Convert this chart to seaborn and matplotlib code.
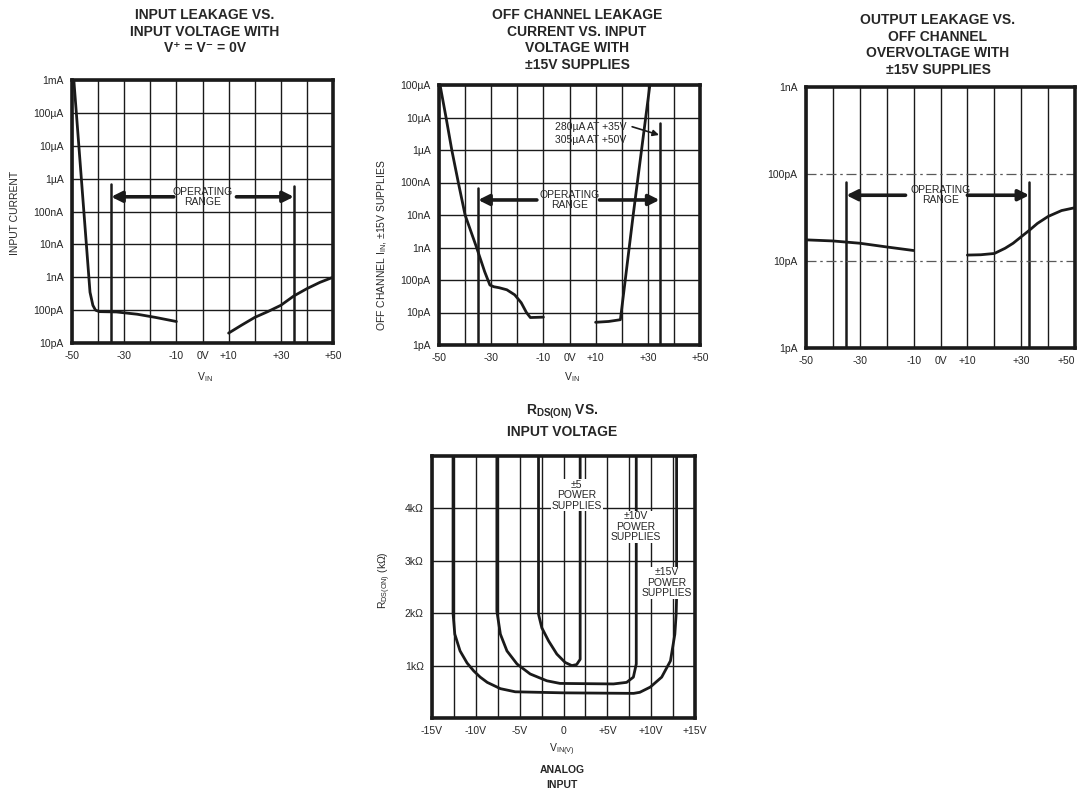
import numpy as np
import pandas as pd
import seaborn as sns
from matplotlib import pyplot as plt
from matplotlib.ticker import FixedLocator, NullLocator

# ---- data ----
# input leakage vs input voltage, V+ = V- = 0V
in_leak_vin_a = [-49.3, -43.1, -42.0, -41.0, -39.5, -33.0, -25.0, -18.0, -10.0]
in_leak_i_a = [1e-3, 3.5e-10, 1.4e-10, 1e-10, 9e-11, 8.8e-11, 7.5e-11, 6e-11, 4.5e-11]
in_leak_vin_b = [10, 15, 20, 25, 30, 35, 40, 45, 50]
in_leak_i_b = [2e-11, 3.5e-11, 6e-11, 9e-11, 1.4e-10, 2.7e-10, 4.5e-10, 7e-10, 1e-9]

# off channel leakage vs input voltage, +-15V supplies
off_vin_a = [-49.6, -47.3, -45.1, -42.6, -40.0, -35.6, -32.5, -30.5, -29.0, -27.0,
             -24.0, -21.0, -18.5, -16.5, -15.0, -10.0]
off_i_a = [1e-4, 1e-5, 1e-6, 1e-7, 1e-8, 1e-9, 1.8e-10, 7e-11, 6.2e-11, 5.8e-11,
           5e-11, 3.5e-11, 2e-11, 1e-11, 7e-12, 7.2e-12]
off_vin_b = [10, 15, 19.5, 24.4, 30.8]
off_i_b = [5e-12, 5.3e-12, 6e-12, 1e-8, 1e-4]

# output leakage vs off channel overvoltage
out_vin_a = [-50, -40, -30, -20, -10]
out_i_a = [1.75e-11, 1.7e-11, 1.6e-11, 1.45e-11, 1.32e-11]
out_vin_b = [10, 15, 20, 24, 27, 30, 33, 36, 40, 45, 50]
out_i_b = [1.17e-11, 1.18e-11, 1.22e-11, 1.4e-11, 1.6e-11, 1.9e-11, 2.25e-11,
           2.7e-11, 3.25e-11, 3.8e-11, 4.1e-11]

# RDS(ON) vs input voltage (kOhm)
rds15_v = [-12.6, -12.6, -12.4, -11.8, -11.0, -10.25, -9.5, -8.7, -7.2, -5.5, 0.0,
           8.0, 8.7, 9.9, 11.2, 12.2, 12.7, 12.85, 12.9, 12.9]
rds15_k = [5.0, 2.0, 1.6, 1.28, 1.05, 0.9, 0.78, 0.68, 0.56, 0.5, 0.48,
           0.47, 0.49, 0.59, 0.78, 1.09, 1.6, 1.98, 2.3, 5.0]
rds10_v = [-7.6, -7.6, -7.2, -6.45, -5.3, -3.8, -1.9, -0.4, 5.7, 7.2, 7.97, 8.3, 8.3]
rds10_k = [5.0, 2.04, 1.6, 1.28, 1.03, 0.84, 0.71, 0.66, 0.65, 0.68, 0.78, 1.03, 5.0]
rds5_v = [-2.85, -2.85, -2.47, -1.7, -0.76, 0.19, 0.95, 1.5, 1.9, 1.9]
rds5_k = [5.0, 1.98, 1.72, 1.47, 1.22, 1.06, 1.0, 1.02, 1.12, 5.0]

leak_xticks = [-50, -30, -10, 0, 10, 30, 50]
leak_xlabels = ['-50', '-30', '-10', '0V', '+10', '+30', '+50']
leak_xminor = [-40, -20, 20, 40]
in_leak_ylabels = ['10pA', '100pA', '1nA', '10nA', '100nA', '1\u00b5A', '10\u00b5A', '100\u00b5A', '1mA']
off_ylabels = ['1pA', '10pA', '100pA', '1nA', '10nA', '100nA', '1\u00b5A', '10\u00b5A', '100\u00b5A']
out_ylabels = ['1pA', '10pA', '100pA', '1nA']
rds_xticks = [-15, -10, -5, 0, 5, 10, 15]
rds_xlabels = ['-15V', '-10V', '-5V', '0', '+5V', '+10V', '+15V']
rds_xminor = [-12.5, -7.5, -2.5, 2.5, 7.5, 12.5]
rds_yticks = [1, 2, 3, 4]
rds_ylabels = ['1k\u03a9', '2k\u03a9', '3k\u03a9', '4k\u03a9']

sns.set_theme(style='white')
plt.rcParams['font.family'] = ['Liberation Sans Narrow', 'Liberation Sans', 'DejaVu Sans']
plt.rcParams['mathtext.fontset'] = 'custom'
plt.rcParams['mathtext.rm'] = 'Liberation Sans'
plt.rcParams['mathtext.bf'] = 'Liberation Sans:bold'

W, H = 1081, 791
fig = plt.figure(figsize=(W / 100, H / 100), dpi=100)


def box(l, t, r, b):
    return [l / W, 1 - b / H, (r - l) / W, (b - t) / H]


def ftext(px, py, s, **kw):
    fig.text(px / W, 1 - py / H, s, **kw)


def style_axes(ax, xmaj, xlab, xmin, ymaj, ylab, xlim, ylim):
    ax.set_xlim(*xlim)
    ax.set_ylim(*ylim)
    ax.set_xticks(xmaj)
    ax.set_xticklabels(xlab)
    ax.xaxis.set_minor_locator(FixedLocator(xmin))
    ax.set_yticks(ymaj)
    ax.set_yticklabels(ylab)
    ax.yaxis.set_minor_locator(NullLocator())
    ax.tick_params(which='both', length=0, labelsize=7.5, pad=6)
    ax.grid(True, which='both', color='k', lw=1.0)
    ax.set_xlabel('')
    ax.set_ylabel('')
    for sp in ax.spines.values():
        sp.set_linewidth(2.6)
        sp.set_color('k')


def curve(ax, xs, ys):
    sns.lineplot(x=xs, y=ys, ax=ax, color='k', lw=2.0, sort=False, estimator=None)


def operating(ax, xl, xr, ytop_l, ytop_r, ybot, yarr, tl, tr):
    ax.plot([xl, xl], [ybot, ytop_l], color='k', lw=1.8)
    ax.plot([xr, xr], [ybot, ytop_r], color='k', lw=1.8)
    ap = dict(arrowstyle='-|>', lw=2.6, color='k', mutation_scale=16, shrinkA=0, shrinkB=0)
    ax.annotate('', xy=(xl, yarr), xytext=(tl, yarr), arrowprops=ap)
    ax.annotate('', xy=(xr, yarr), xytext=(tr, yarr), arrowprops=ap)
    ax.text(0, yarr, 'OPERATING\nRANGE', ha='center', va='center', fontsize=7.5,
            linespacing=1.0)


tkw = dict(ha='center', va='center', fontsize=10, fontweight='bold',
           family=['Liberation Sans', 'DejaVu Sans'])

# ---- chart 1 ----
ax1 = fig.add_axes(box(72, 80, 333, 343))
ax1.set_yscale('log')
curve(ax1, in_leak_vin_a, in_leak_i_a)
curve(ax1, in_leak_vin_b, in_leak_i_b)
operating(ax1, -35, 35, 7e-7, 6e-7, 1e-11, 2.8e-7, -11, 13)
style_axes(ax1, leak_xticks, leak_xlabels, leak_xminor,
           [10.0 ** e for e in range(-11, -2)], in_leak_ylabels, (-50, 50), (1e-11, 1e-3))
ftext(205, 15, 'INPUT LEAKAGE VS.', **tkw)
ftext(205, 32, 'INPUT VOLTAGE WITH', **tkw)
ftext(205, 48, 'V\u207a = V\u207b = 0V', **tkw)
ftext(15, 213, 'INPUT CURRENT', rotation=90, ha='center', va='center', fontsize=7.5)
ftext(205, 377, 'V$_{\\mathregular{IN}}$', ha='center', va='center', fontsize=7.5)

# ---- chart 2 ----
ax2 = fig.add_axes(box(439, 85, 700, 345))
ax2.set_yscale('log')
curve(ax2, off_vin_a, off_i_a)
curve(ax2, off_vin_b, off_i_b)
operating(ax2, -35, 34.5, 6.8e-8, 6.8e-6, 1e-12, 2.9e-8, -12.5, 11.5)
ax2.annotate('', xy=(34.3, 2.9e-6), xytext=(24, 5.2e-6),
             arrowprops=dict(arrowstyle='-|>', lw=1.2, color='k', mutation_scale=9,
                             shrinkA=0, shrinkB=0))
ax2.text(8, 5.2e-6, '280\u00b5A AT +35V', ha='center', va='center', fontsize=7.5)
ax2.text(8, 2.0e-6, '305\u00b5A AT +50V', ha='center', va='center', fontsize=7.5)
style_axes(ax2, leak_xticks, leak_xlabels, leak_xminor,
           [10.0 ** e for e in range(-12, -3)], off_ylabels, (-50, 50), (1e-12, 1e-4))
ftext(577, 15, 'OFF CHANNEL LEAKAGE', **tkw)
ftext(577, 32, 'CURRENT VS. INPUT', **tkw)
ftext(577, 48, 'VOLTAGE WITH', **tkw)
ftext(577, 65, '\u00b115V SUPPLIES', **tkw)
ftext(382, 245, 'OFF CHANNEL I$_{\\mathregular{IN}}$, \u00b115V SUPPLIES', rotation=90,
      ha='center', va='center', fontsize=7.5)
ftext(572, 377, 'V$_{\\mathregular{IN}}$', ha='center', va='center', fontsize=7.5)

# ---- chart 3 ----
ax3 = fig.add_axes(box(806, 87, 1075, 348))
ax3.set_yscale('log')
curve(ax3, out_vin_a, out_i_a)
curve(ax3, out_vin_b, out_i_b)
operating(ax3, -35, 33, 8.1e-11, 8.1e-11, 1e-12, 5.7e-11, -13, 10)
style_axes(ax3, leak_xticks, leak_xlabels, leak_xminor,
           [10.0 ** e for e in range(-12, -8)], out_ylabels, (-50, 50), (1e-12, 1e-9))
ax3.get_xticklabels()[-1].set_horizontalalignment('right')
ax3.grid(False, axis='y')
for yv in [1e-11, 1e-10]:
    ax3.axhline(yv, color='0.35', lw=0.9, ls=(0, (8, 3, 2, 3)))
ftext(938, 20, 'OUTPUT LEAKAGE VS.', **tkw)
ftext(938, 37, 'OFF CHANNEL', **tkw)
ftext(938, 53, 'OVERVOLTAGE WITH', **tkw)
ftext(938, 70, '\u00b115V SUPPLIES', **tkw)

# ---- chart 4 ----
ax4 = fig.add_axes(box(432, 456, 695, 718))
curve(ax4, rds15_v, rds15_k)
curve(ax4, rds10_v, rds10_k)
curve(ax4, rds5_v, rds5_k)
lkw = dict(ha='center', va='center', fontsize=7.5, linespacing=1.05,
           bbox=dict(facecolor='white', edgecolor='none', pad=0.5))
ax4.text(1.5, 4.25, '\u00b15\nPOWER\nSUPPLIES', **lkw)
ax4.text(8.2, 3.65, '\u00b110V\nPOWER\nSUPPLIES', **lkw)
ax4.text(11.8, 2.58, '\u00b115V\nPOWER\nSUPPLIES', **lkw)
style_axes(ax4, rds_xticks, rds_xlabels, rds_xminor, rds_yticks, rds_ylabels,
           (-15, 15), (0, 5))
ftext(562, 412, 'R$_{\\mathbf{DS(ON)}}$ VS.', **tkw)
ftext(562, 432, 'INPUT VOLTAGE', **tkw)
ftext(385, 580, 'R$_{\\mathregular{DS(ON)}}$ (k\u03a9)', rotation=90, ha='center',
      va='center', fontsize=7.5)
ftext(562, 750, 'V$_{\\mathregular{IN(V)}}$', ha='center', va='center', fontsize=7.5)
ftext(562, 770, 'ANALOG', ha='center', va='center', fontsize=7.5, fontweight='bold')
ftext(562, 785, 'INPUT', ha='center', va='center', fontsize=7.5, fontweight='bold')

fig.savefig('out.png', dpi=100)
